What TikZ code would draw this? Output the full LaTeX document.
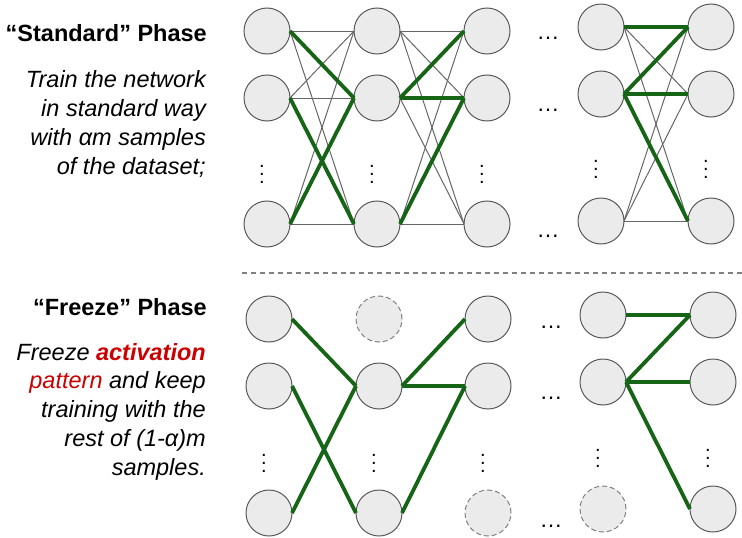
\documentclass[tikz,border=0pt]{standalone}
\usepackage{fontspec}
\setmainfont{Liberation Sans}
\definecolor{actred}{RGB}{204,0,0}
\definecolor{pathgreen}{RGB}{22,101,22}
\definecolor{unitfill}{RGB}{235,235,235}

\begin{document}
\begin{tikzpicture}[
  x = 1pt, y = -1pt,
  unit/.style = {
    shape = circle,
    draw = black!65,
    fill = unitfill,
    line width = 1pt,
    minimum size = 46pt,
    inner sep = 0pt,
    outer sep = 0pt,
  },
  dropped/.style = { unit, draw = black!50, dash pattern = on 5pt off 3pt },
  vdot/.style = { inner sep = 0pt },
  hdot/.style = { anchor = base, inner sep = 0pt, font = \fontsize{23}{23}\selectfont },
  weight/.style = { draw = black!60, line width = 1pt },
  active/.style = { draw = pathgreen, line width = 3.8pt },
  phase/.style = { anchor = base east, inner sep = 0pt, font = \fontsize{23.5}{28}\selectfont\bfseries },
  note/.style = { anchor = base east, align = right, inner sep = 0pt, font = \fontsize{23.5}{28.7}\selectfont\itshape },
]
  \useasboundingbox (0, 0) rectangle (742, 538);

  % "standard" phase
  \node[unit] (a1) at (267, 31) {};
  \node[unit] (a2) at (267, 98) {};
  \node[unit] (a3) at (267, 224) {};
  \node[unit] (b1) at (377, 31) {};
  \node[unit] (b2) at (377, 98) {};
  \node[unit] (b3) at (377, 224) {};
  \node[unit] (c1) at (487, 31) {};
  \node[unit] (c2) at (487, 98) {};
  \node[unit] (c3) at (487, 224) {};
  \node[unit] (d1) at (601, 27) {};
  \node[unit] (d2) at (601, 94) {};
  \node[unit] (d3) at (601, 221) {};
  \node[unit] (e1) at (711, 27) {};
  \node[unit] (e2) at (711, 94) {};
  \node[unit] (e3) at (711, 221) {};

  \node[vdot] (va) at (262, 168) {\scalebox{2}{$\vdots$}};
  \node[vdot] (vb) at (372, 168) {\scalebox{2}{$\vdots$}};
  \node[vdot] (vc) at (482, 168) {\scalebox{2}{$\vdots$}};
  \node[vdot] (vd) at (596, 163) {\scalebox{2}{$\vdots$}};
  \node[vdot] (ve) at (706, 163) {\scalebox{2}{$\vdots$}};
  \node[hdot] (h1) at (548, 39) {…};
  \node[hdot] (h2) at (548, 111) {…};
  \node[hdot] (h3) at (548, 237) {…};

  \foreach \l/\r in {a/b, b/c, d/e}
    \foreach \i in {1, 2, 3}
      \foreach \j in {1, 2, 3}
        \draw[weight] (\l\i.east) -- (\r\j.west);

  \draw[active] (a1.east) -- (b2.west);
  \draw[active] (a2.east) -- (b3.west);
  \draw[active] (a3.east) -- (b2.west);
  \draw[active] (b2.east) -- (c1.west);
  \draw[active] (b2.east) -- (c2.west);
  \draw[active] (b3.east) -- (c2.west);
  \draw[active] (d1.east) -- (e1.west);
  \draw[active] (d2.east) -- (e1.west);
  \draw[active] (d2.east) -- (e2.west);
  \draw[active] (d2.east) -- (e3.west);

  \node[phase] (stdtitle) at (207, 41.5) {“Standard” Phase};
  \node[note] (stdnote) at (206, 174)
    {Train the network\\in standard way\\with αm samples\\of the dataset;};

  \coordinate (sepl) at (242, 273);
  \coordinate (sepr) at (742, 273);
  \draw[draw = black!50, line width = 1.5pt, dash pattern = on 5pt off 4pt] (sepl) -- (sepr);

  % "freeze" phase
  \node[unit] (fa1) at (269, 319) {};
  \node[unit] (fa2) at (269, 386) {};
  \node[unit] (fa3) at (269, 513) {};
  \node[dropped] (fb1) at (379, 319) {};
  \node[unit] (fb2) at (379, 386) {};
  \node[unit] (fb3) at (379, 513) {};
  \node[unit] (fc1) at (488, 319) {};
  \node[unit] (fc2) at (488, 386) {};
  \node[dropped] (fc3) at (488, 513) {};
  \node[unit] (fd1) at (603, 315) {};
  \node[unit] (fd2) at (603, 382) {};
  \node[dropped] (fd3) at (603, 509) {};
  \node[unit] (fe1) at (713, 315) {};
  \node[unit] (fe2) at (713, 382) {};
  \node[unit] (fe3) at (713, 509) {};

  \node[vdot] (fva) at (264, 457) {\scalebox{2}{$\vdots$}};
  \node[vdot] (fvb) at (374, 457) {\scalebox{2}{$\vdots$}};
  \node[vdot] (fvc) at (483, 457) {\scalebox{2}{$\vdots$}};
  \node[vdot] (fvd) at (598, 452) {\scalebox{2}{$\vdots$}};
  \node[vdot] (fve) at (708, 452) {\scalebox{2}{$\vdots$}};
  \node[hdot] (fh1) at (551, 328) {…};
  \node[hdot] (fh2) at (551, 399) {…};
  \node[hdot] (fh3) at (551, 527) {…};

  \draw[active] (fa1.east) -- (fb2.west);
  \draw[active] (fa2.east) -- (fb3.west);
  \draw[active] (fa3.east) -- (fb2.west);
  \draw[active] (fb2.east) -- (fc1.west);
  \draw[active] (fb2.east) -- (fc2.west);
  \draw[active] (fb3.east) -- (fc2.west);
  \draw[active] (fd1.east) -- (fe1.west);
  \draw[active] (fd2.east) -- (fe1.west);
  \draw[active] (fd2.east) -- (fe2.west);
  \draw[active] (fd2.east) -- (fe3.west);

  \node[phase] (frztitle) at (207, 315) {“Freeze” Phase};
  \node[note] (frznote) at (206, 475)
    {Freeze \textcolor{actred}{\bfseries activation}\\\textcolor{actred}{pattern} and keep\\training with the\\rest of (1-α)m\\samples.};
\end{tikzpicture}
\end{document}
